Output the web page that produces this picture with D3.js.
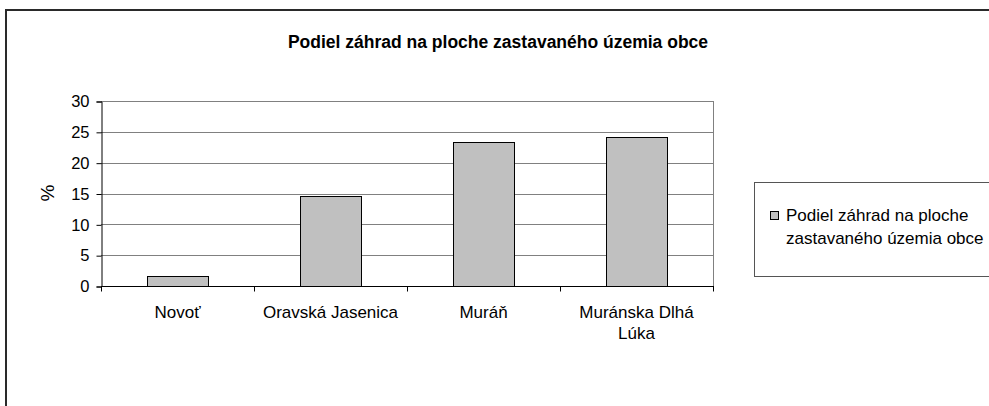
<!DOCTYPE html>
<html>
<head>
<meta charset="utf-8">
<script src="https://cdn.jsdelivr.net/npm/d3@7"></script>
<style>
  html, body { margin: 0; padding: 0; background: #fff; }
  svg { display: block; font-family: "Liberation Sans", Arial, sans-serif; }
</style>
</head>
<body>
<svg id="chart" width="989" height="406"></svg>
<script>
const titleText = "Podiel záhrad na ploche zastavaného územia obce";
const categories = ["Novoť", "Oravská Jasenica", "Muráň", "Muránska Dlhá Lúka"];
const categoryLines = [["Novoť"], ["Oravská Jasenica"], ["Muráň"], ["Muránska Dlhá", "Lúka"]];
const values = [1.6, 14.6, 23.3, 24.2];
const yTicks = [0, 5, 10, 15, 20, 25, 30];
const yLabel = "%";
const legendLines = ["Podiel záhrad na ploche", "zastavaného územia obce"];

const svg = d3.select("#chart");

// outer chart border (extends beyond viewport on right/bottom)
svg.append("rect")
  .attr("x", 6).attr("y", 10).attr("width", 1100).attr("height", 600)
  .attr("fill", "#fff").attr("stroke", "#2a2a2a").attr("stroke-width", 2);

const plot = { left: 101, right: 713, top: 101, bottom: 286 };

const x = d3.scaleBand().domain(categories).range([plot.left, plot.right]).paddingInner(0.6).paddingOuter(0.3);
const xTickScale = d3.scaleBand().domain(categories).range([plot.left, plot.right]);
const y = d3.scaleLinear().domain([0, 30]).range([plot.bottom, plot.top]);

// title
svg.append("text")
  .attr("x", 498).attr("y", 48)
  .attr("text-anchor", "middle")
  .attr("font-weight", "bold")
  .attr("font-size", 17.5)
  .attr("fill", "#000")
  .text(titleText);

// gridlines
svg.append("g").selectAll("line").data(yTicks.filter(d => d > 0)).join("line")
  .attr("x1", plot.left).attr("x2", plot.right)
  .attr("y1", d => Math.round(y(d)) + 0.5).attr("y2", d => Math.round(y(d)) + 0.5)
  .attr("stroke", "#808080").attr("stroke-width", 1);

// right plot border
svg.append("line")
  .attr("x1", plot.right + 0.5).attr("x2", plot.right + 0.5)
  .attr("y1", plot.top).attr("y2", plot.bottom)
  .attr("stroke", "#808080");

// bars
svg.append("g").selectAll("rect").data(values).join("rect")
  .attr("x", (d, i) => Math.round(x(categories[i])) + 0.5)
  .attr("y", d => Math.round(y(d)) + 0.5)
  .attr("width", Math.round(x.bandwidth()))
  .attr("height", d => Math.round(y(0)) - Math.round(y(d)))
  .attr("fill", "#c0c0c0")
  .attr("stroke", "#000").attr("stroke-width", 1);

// y axis
const yAxis = d3.axisLeft(y).tickValues(yTicks).tickSize(5).tickPadding(7);
const gy = svg.append("g").attr("transform", `translate(${plot.left + 0.5},0.5)`).call(yAxis);
gy.select(".domain").attr("stroke", "#000");
gy.selectAll(".tick line").attr("stroke", "#000");
gy.selectAll(".tick text").attr("font-size", 16.5).attr("fill", "#000")
  .attr("font-family", "Liberation Sans, Arial, sans-serif");

// x axis baseline and ticks
const gx = svg.append("g").attr("transform", `translate(0,${plot.bottom + 0.5})`);
gx.append("line").attr("x1", plot.left).attr("x2", plot.right + 1).attr("y1", 0).attr("y2", 0).attr("stroke", "#000");
const tickPositions = categories.map(c => xTickScale(c)).concat([plot.right]);
gx.selectAll("line.tk").data(tickPositions).join("line").attr("class", "tk")
  .attr("x1", d => Math.round(d) + 0.5).attr("x2", d => Math.round(d) + 0.5)
  .attr("y1", 0).attr("y2", 5).attr("stroke", "#000");

// category labels
const labels = svg.append("g").selectAll("text").data(categories).join("text")
  .attr("x", c => xTickScale(c) + xTickScale.bandwidth() / 2)
  .attr("y", 318)
  .attr("text-anchor", "middle")
  .attr("font-size", 17)
  .attr("fill", "#000");
labels.each(function(c, i) {
  d3.select(this).selectAll("tspan").data(categoryLines[i]).join("tspan")
    .attr("x", xTickScale(c) + xTickScale.bandwidth() / 2)
    .attr("dy", (d, j) => j === 0 ? 0 : 21)
    .text(d => d);
});

// y label
svg.append("text")
  .attr("transform", "translate(54,193) rotate(-90)")
  .attr("text-anchor", "middle")
  .attr("font-size", 19)
  .attr("fill", "#000")
  .text(yLabel);

// legend
svg.append("rect")
  .attr("x", 754.5).attr("y", 182.5).attr("width", 400).attr("height", 94)
  .attr("fill", "#fff").attr("stroke", "#555").attr("stroke-width", 1);
svg.append("rect")
  .attr("x", 770.5).attr("y", 211.5).attr("width", 8).attr("height", 8)
  .attr("fill", "#c0c0c0").attr("stroke", "#000");
svg.append("text")
  .attr("x", 786).attr("y", 221)
  .attr("font-size", 17).attr("fill", "#000")
  .selectAll("tspan").data(legendLines).join("tspan")
  .attr("x", 786).attr("dy", (d, i) => i === 0 ? 0 : 23)
  .text(d => d);
</script>
</body>
</html>
